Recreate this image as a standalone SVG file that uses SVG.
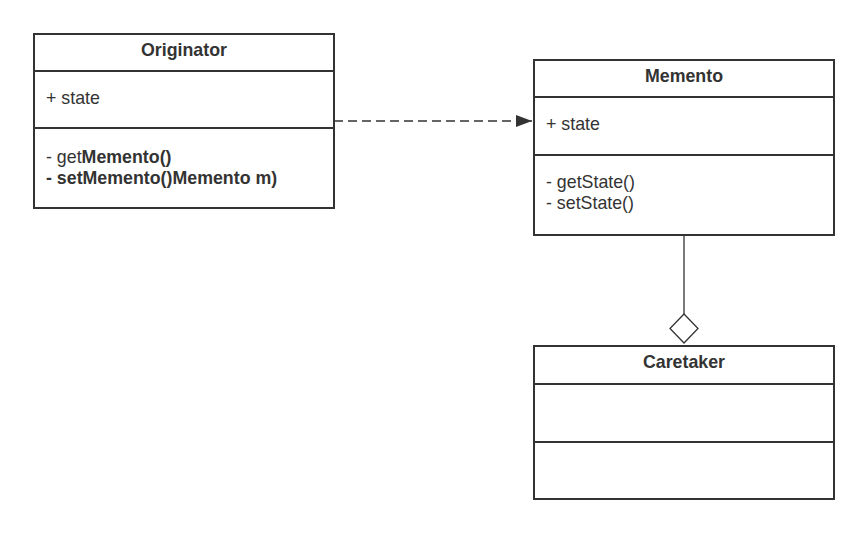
<svg xmlns="http://www.w3.org/2000/svg" width="863" height="533" viewBox="0 0 863 533">
<style>
.box{fill:#fff;stroke:#333;stroke-width:2}
.div{stroke:#333;stroke-width:2}
.t{font-family:"Liberation Sans",Arial,sans-serif;font-size:17.8px;fill:#333}
.b{font-weight:bold}
.c{text-anchor:middle}
.con{fill:none;stroke:#333;stroke-width:1.3}
</style>
<defs>
<marker id="arr" viewBox="0 0 16 12" refX="16" refY="6" markerWidth="16" markerHeight="12" markerUnits="userSpaceOnUse" orient="auto">
<path d="M0,0 L16,6 L0,12 Z" fill="#333"/>
</marker>
</defs>
<rect width="863" height="533" fill="#fff"/>
<g id="connectors">
<line class="con" x1="334" y1="121" x2="532" y2="121" stroke-dasharray="9,5" marker-end="url(#arr)"/>
<line class="con" x1="684" y1="235" x2="684" y2="314"/>
<path class="con" d="M684,314 L698,328.5 L684,343 L670,328.5 Z" fill="#fff"/>
</g>
<g id="originator">
<rect class="box" x="34" y="34" width="300" height="174"/>
<line class="div" x1="34" y1="71" x2="334" y2="71"/>
<line class="div" x1="34" y1="128" x2="334" y2="128"/>
<text class="t b c" x="184" y="56">Originator</text>
<text class="t" x="46" y="104">+ state</text>
<text class="t" x="46" y="163">- get<tspan class="b">Memento()</tspan></text>
<text class="t b" x="46" y="184">- setMemento()Memento m)</text>
</g>
<g id="memento">
<rect class="box" x="534" y="60" width="300" height="175"/>
<line class="div" x1="534" y1="97" x2="834" y2="97"/>
<line class="div" x1="534" y1="155" x2="834" y2="155"/>
<text class="t b c" x="684" y="82">Memento</text>
<text class="t" x="546" y="130">+ state</text>
<text class="t" x="546" y="188">- getState()</text>
<text class="t" x="546" y="209">- setState()</text>
</g>
<g id="caretaker">
<rect class="box" x="534" y="346" width="300" height="153"/>
<line class="div" x1="534" y1="384" x2="834" y2="384"/>
<line class="div" x1="534" y1="442" x2="834" y2="442"/>
<text class="t b c" x="684" y="368">Caretaker</text>
</g>
</svg>
